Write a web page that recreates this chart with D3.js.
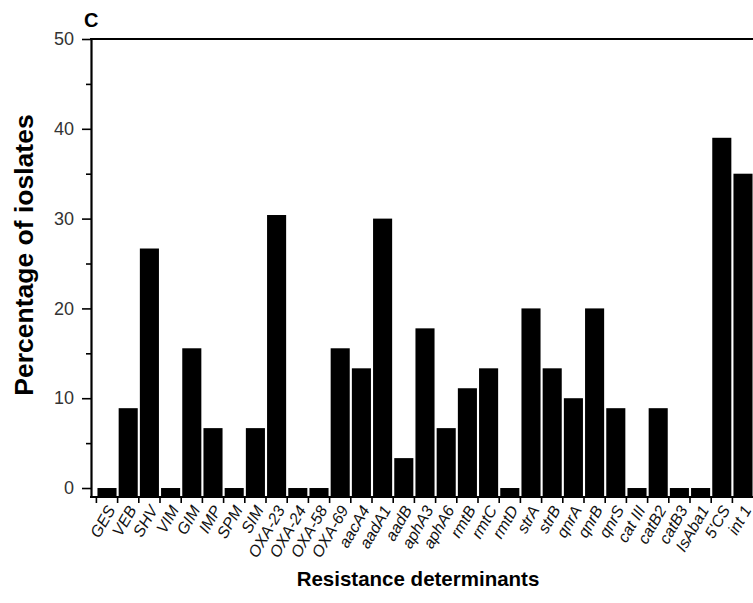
<!DOCTYPE html>
<html>
<head>
<meta charset="utf-8">
<script src="https://cdn.jsdelivr.net/npm/d3@7"></script>
<style>
  body { margin: 0; background: #fff; }
  svg { display: block; font-family: Arial, "Liberation Sans", sans-serif; }
</style>
</head>
<body>
<svg id="chart" width="753" height="603"></svg>
<script>
var categories = ["GES", "VEB", "SHV", "VIM", "GIM", "IMP", "SPM", "SIM", "OXA-23", "OXA-24",
                  "OXA-58", "OXA-69", "aacA4", "aadA1", "aadB", "aphA3", "aphA6", "rmtB", "rmtC", "rmtD",
                  "strA", "strB", "qnrA", "qnrB", "qnrS", "cat III", "catB2", "catB3", "IsAba1", "5'CS", "int 1"];
var percent = [0, 8.89, 26.67, 0, 15.56, 6.67, 0, 6.67, 30.4, 0,
               0, 15.56, 13.33, 30, 3.33, 17.78, 6.67, 11.11, 13.33, 0,
               20, 13.33, 10, 20, 8.89, 0, 8.89, 0, 0, 39, 35];
var yTicks = [0, 10, 20, 30, 40, 50];
var yMinorTicks = [5, 15, 25, 35, 45];

var svg = d3.select("#chart");
var axisX = 91, plotTop = 39, plotBottom = 497;

var y = d3.scaleLinear().domain([-1, 50]).range([plotBottom, plotTop]);
var x = d3.scaleBand().domain(categories).range([96.4, 753.6])
          .paddingInner(0.1).paddingOuter(0.05);

// bars (zero values drawn as a stub from the axis up to 0)
svg.append("g").selectAll("rect")
    .data(percent)
    .enter().append("rect")
        .attr("x", function(d, i) { return x(categories[i]); })
        .attr("width", x.bandwidth())
        .attr("y", function(d) { return y(d); })
        .attr("height", function(d) { return y(-1) - y(d); })
        .attr("fill", "#000");

// y axis, major + minor
var gy = svg.append("g")
    .attr("transform", "translate(" + axisX + ",0)")
    .call(d3.axisLeft(y).tickValues(yTicks).tickSize(9).tickSizeOuter(0).tickPadding(8));
gy.select(".domain").attr("stroke-width", 2.2);
gy.selectAll(".tick line").attr("stroke-width", 1.6);
gy.selectAll(".tick text").attr("font-size", 18).attr("fill", "#333")
    .attr("font-family", "Arial, 'Liberation Sans', sans-serif");

var gym = svg.append("g")
    .attr("transform", "translate(" + axisX + ",0)")
    .call(d3.axisLeft(y).tickValues(yMinorTicks).tickSize(5).tickSizeOuter(0).tickFormat(""));
gym.select(".domain").remove();
gym.selectAll(".tick line").attr("stroke-width", 1.6);

// top frame line
svg.append("line")
    .attr("x1", axisX - 1).attr("x2", 753)
    .attr("y1", y(50)).attr("y2", y(50))
    .attr("stroke", "#000").attr("stroke-width", 2.2);

// bottom axis
svg.append("line")
    .attr("x1", axisX - 1).attr("x2", 753)
    .attr("y1", plotBottom).attr("y2", plotBottom)
    .attr("stroke", "#000").attr("stroke-width", 2.2);

var half = x.step() * x.paddingInner() / 2;
svg.append("g").selectAll("line.sep")
    .data(categories)
    .enter().append("line")
        .attr("x1", function(d) { return x(d) - half; })
        .attr("x2", function(d) { return x(d) - half; })
        .attr("y1", plotBottom).attr("y2", plotBottom + 6)
        .attr("stroke", "#000").attr("stroke-width", 1.6);

var gx = svg.append("g")
    .attr("transform", "translate(0," + plotBottom + ")")
    .call(d3.axisBottom(x).tickSize(0).tickSizeOuter(0));
gx.select(".domain").remove();
gx.selectAll(".tick text")
    .attr("font-size", 16)
    .attr("font-style", "italic")
    .attr("font-family", "Arial, 'Liberation Sans', sans-serif")
    .attr("fill", "#111")
    .attr("text-anchor", "end")
    .attr("dy", "0.35em")
    .attr("transform", "translate(4,10) rotate(-60)")
    .attr("y", 0).attr("x", 0);

// titles
svg.append("text")
    .attr("x", 84).attr("y", 27)
    .attr("font-size", 20).attr("font-weight", "bold")
    .text("C");

svg.append("text")
    .attr("transform", "translate(33,255) rotate(-90)")
    .attr("text-anchor", "middle")
    .attr("font-size", 26.5).attr("font-weight", "bold")
    .text("Percentage of ioslates");

svg.append("text")
    .attr("x", 418).attr("y", 586)
    .attr("text-anchor", "middle")
    .attr("font-size", 20.5).attr("font-weight", "bold")
    .text("Resistance determinants");
</script>
</body>
</html>
